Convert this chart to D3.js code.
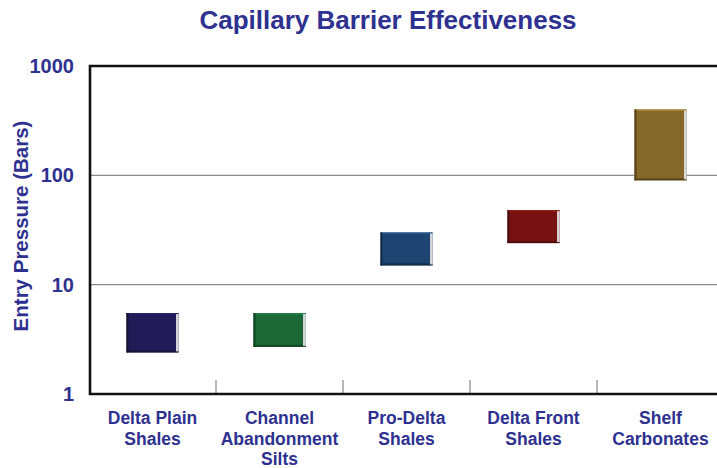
<!DOCTYPE html>
<html><head><meta charset="utf-8">
<script src="https://cdn.jsdelivr.net/npm/d3@7"></script>
<style>body{margin:0;background:#fff;}svg{display:block;}</style>
</head><body>
<svg id="chart" width="717" height="468"></svg>
<script>
const categories = [["Delta Plain","Shales"],["Channel","Abandonment","Silts"],["Pro-Delta","Shales"],["Delta Front","Shales"],["Shelf","Carbonates"]];
const lowValues = [2.4, 2.7, 15, 24, 90];
const highValues = [5.5, 5.5, 30, 48, 400];
const barColors = ["#201c58", "#1a6936", "#1e4471", "#761212", "#866828"];
const yTicks = [1, 10, 100, 1000];
const title = "Capillary Barrier Effectiveness";
const yTitle = "Entry Pressure (Bars)";
const textColor = "#2e3190";

(function() {
const svg = d3.select("#chart");
const pLeft = 90, pTop = 66, pBottom = 394;
const font = "Liberation Sans, Arial, sans-serif";
const x = d3.scaleBand().domain(d3.range(categories.length)).range([89, 724]).paddingInner(0.59).paddingOuter(0.295);
const xb = d3.scaleBand().domain(d3.range(categories.length)).range([89, 724]);
const y = d3.scaleLog().domain([1, 1000]).range([pBottom, pTop]);

// gridlines
svg.append("g").selectAll("line").data([10, 100]).join("line")
  .attr("x1", pLeft).attr("x2", 717).attr("y1", d => y(d)).attr("y2", d => y(d))
  .attr("stroke", "#8a8a8a").attr("stroke-width", 1.2);

// category ticks
svg.append("g").selectAll("line").data(d3.range(1, categories.length)).join("line")
  .attr("x1", d => xb(d)).attr("x2", d => xb(d)).attr("y1", pBottom - 14).attr("y2", pBottom)
  .attr("stroke", "#888").attr("stroke-width", 1.2);

// frame: left, top, bottom
svg.append("path").attr("d", `M717,${pTop}H${pLeft}V${pBottom}H717`)
  .attr("fill", "none").attr("stroke", "#111").attr("stroke-width", 2.6);

// bars with bevel
const bars = svg.append("g").selectAll("g").data(categories.map((c, i) => i)).join("g");
bars.each(function(i) {
  const g = d3.select(this);
  const x0 = x(i), w = x.bandwidth();
  const y0 = y(highValues[i]), y1 = y(lowValues[i]);
  const c = d3.color(barColors[i]);
  g.append("rect").attr("x", x0).attr("y", y0).attr("width", w).attr("height", y1 - y0).attr("fill", barColors[i]);
  g.append("rect").attr("x", x0).attr("y", y0).attr("width", w).attr("height", 1.5).attr("fill", c.brighter(0.6));
  g.append("rect").attr("x", x0).attr("y", y0).attr("width", 2).attr("height", y1 - y0).attr("fill", c.darker(1.2));
  g.append("rect").attr("x", x0).attr("y", y1 - 2).attr("width", w).attr("height", 2).attr("fill", c.darker(1.2));
  g.append("rect").attr("x", x0 + w - 2.5).attr("y", y0 + 1).attr("width", 2.5).attr("height", y1 - y0 - 2).attr("fill", "#d8d8dc");
});

// y tick labels
svg.append("g").selectAll("text").data(yTicks).join("text")
  .attr("x", 74).attr("y", d => y(d) + 7).attr("text-anchor", "end")
  .attr("font-family", font).attr("font-weight", "bold").attr("font-size", 20)
  .attr("fill", textColor).text(d => d);

// y title
svg.append("text").attr("transform", `translate(28,226) rotate(-90)`).attr("text-anchor", "middle")
  .attr("font-family", font).attr("font-weight", "bold").attr("font-size", 20.5)
  .attr("fill", textColor).text(yTitle);

// title
svg.append("text").attr("x", 388).attr("y", 29).attr("text-anchor", "middle")
  .attr("font-family", font).attr("font-weight", "bold").attr("font-size", 26)
  .attr("fill", textColor).text(title);

// category labels
const lab = svg.append("g").selectAll("text").data(categories.map((c, i) => i)).join("text")
  .attr("x", i => xb(i) + xb.bandwidth() / 2).attr("y", 424).attr("text-anchor", "middle")
  .attr("font-family", font).attr("font-weight", "bold").attr("font-size", 17.5)
  .attr("fill", textColor);
lab.each(function(i) {
  d3.select(this).selectAll("tspan").data(categories[i]).join("tspan")
    .attr("x", xb(i) + xb.bandwidth() / 2).attr("dy", (d, k) => k === 0 ? 0 : 20.5).text(d => d);
});
})();
</script>
</body></html>
